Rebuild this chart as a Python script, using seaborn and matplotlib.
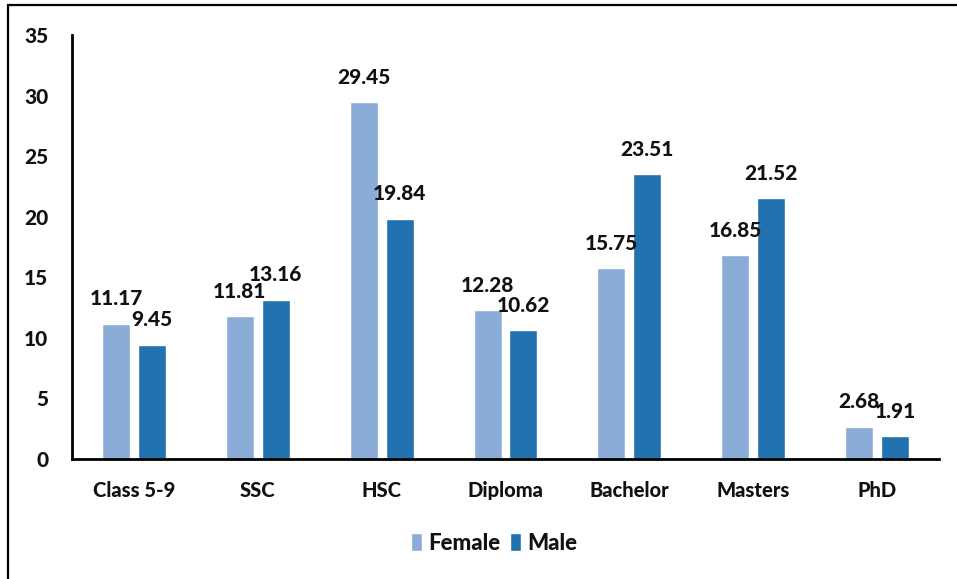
import matplotlib
matplotlib.use("Agg")
import matplotlib.pyplot as plt
import matplotlib.patches as mpatches
import pandas as pd
import seaborn as sns

categories = ["Class 5-9", "SSC", "HSC", "Diploma", "Bachelor", "Masters", "PhD"]
female = [11.17, 11.81, 29.45, 12.28, 15.75, 16.85, 2.68]
male = [9.45, 13.16, 19.84, 10.62, 23.51, 21.52, 1.91]
groups = ["Female", "Male"]
colors = ["#8AACD6", "#2272AF"]
y_ticks = [0, 5, 10, 15, 20, 25, 30, 35]

df = pd.DataFrame({
    "level": categories * 2,
    "gender": [groups[0]] * len(categories) + [groups[1]] * len(categories),
    "value": female + male,
})

sns.set_theme(style="white")
plt.rcParams["font.family"] = ["Lato", "DejaVu Sans"]
W = "black"

fig = plt.figure(figsize=(9.57, 5.79), dpi=100)
ax = fig.add_axes([72 / 957, 1 - 459 / 579, (939 - 72) / 957, (459 - 35) / 579])

sns.barplot(data=df, x="level", y="value", hue="gender", order=categories,
            hue_order=groups, palette=colors, width=0.58, gap=0.22,
            saturation=1, ax=ax, legend=True)

for cont in ax.containers:
    ax.bar_label(cont, fmt="%.2f", padding=11, fontsize=15, fontweight=W,
                 color="#111111")

ax.set_xlim(-0.5, len(categories) - 0.5)
ax.set_ylim(0, 35)
ax.set_yticks(y_ticks)
ax.set_yticklabels([str(t) for t in y_ticks], fontsize=15, fontweight=W)
ax.set_xticks(range(len(categories)))
ax.set_xticklabels(categories, fontsize=14.5, fontweight=W)
ax.tick_params(axis="y", length=0, pad=17, colors="#111111")
ax.tick_params(axis="x", length=0, pad=16, colors="#111111")
ax.set_xlabel("")
ax.set_ylabel("")
for side in ["top", "right"]:
    ax.spines[side].set_visible(False)
for side in ["left", "bottom"]:
    ax.spines[side].set_color("black")
    ax.spines[side].set_linewidth(2)

handles, labels = ax.get_legend_handles_labels()
ax.legend(handles, labels, loc="center", bbox_to_anchor=(494 / 957, 1 - 543 / 579),
          bbox_transform=fig.transFigure, ncol=2, frameon=False,
          prop={"size": 16, "weight": W}, handlelength=0.5, handleheight=0.85,
          handletextpad=0.3, columnspacing=0.4, labelcolor="#111111")

# outer frame around the chart area
frame = mpatches.Rectangle((8 / 957, -0.1), 1.2, 1 - 5 / 579 + 0.1,
                           transform=fig.transFigure, fill=False,
                           edgecolor="black", linewidth=1.6, clip_on=False)
fig.patches.append(frame)

fig.savefig("out.png", dpi=100)
